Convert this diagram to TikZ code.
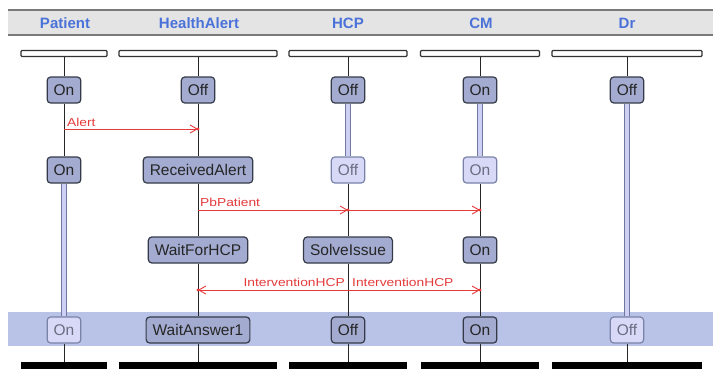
\documentclass[tikz,border=0pt]{standalone}
\usepackage{fontspec}
\setmainfont{Liberation Sans}
\newfontfamily\msgfont[FakeStretch=1.2]{Liberation Sans}
\usetikzlibrary{arrows.meta}

\definecolor{hdrbg}{HTML}{E4E4E4}
\definecolor{hdrline}{HTML}{7A7A7A}
\definecolor{hdrtext}{HTML}{4A72D9}
\definecolor{band}{HTML}{B9C3E7}
\definecolor{stfill}{HTML}{A3ABD0}
\definecolor{stdraw}{HTML}{353A48}
\definecolor{ltfill}{HTML}{D7D9F7}
\definecolor{ltdraw}{HTML}{7A82A8}
\definecolor{lttext}{HTML}{6A6E80}
\definecolor{msg}{HTML}{E43A3A}
\definecolor{dbl}{HTML}{CDD0F2}
\definecolor{dbledge}{HTML}{6E78A0}

\tikzset{
  hdr/.style={text=hdrtext, font=\bfseries\fontsize{15}{16}\selectfont, inner sep=0},
  stbox/.style={draw=stdraw, fill=stfill, rounded corners=3.5pt, line width=1.2pt,
    minimum height=26pt, minimum width=33pt, inner xsep=6.5pt, inner ysep=0pt,
    text=black!85, font=\fontsize{15.5}{16}\selectfont},
  ghost/.style={stbox, draw=ltdraw, fill=ltfill, text=lttext},
  lane/.style={draw=black!80, fill=white, rounded corners=1pt, line width=1.2pt,
    minimum height=6pt, inner sep=0},
  endbar/.style={fill=black, inner sep=0, minimum height=8pt},
  life/.style={draw=black!85, line width=0.8pt},
  busy/.style={draw=dbledge, line width=0.9pt, double=dbl, double distance=4.5pt},
  msgline/.style={draw=msg, line width=0.9pt, -{Straight Barb[length=7pt,width=8pt]}},
  msgdot/.style={fill=msg},
  msgtext/.style={text=msg, font=\msgfont\fontsize{11.5}{12}\selectfont, inner sep=0}
}

\begin{document}
\begin{tikzpicture}[x=1pt, y=-1pt]
\useasboundingbox (0,0) rectangle (713,368);

% header strip with the participant names
\fill[hdrbg] (8,10) rectangle (713,35);
\draw[hdrline, line width=1.4pt] (8,10) -- (713,10);
\draw[hdrline, line width=1.2pt] (8,35) -- (713,35);
\node[hdr] (hP) at (65,23) {Patient};
\node[hdr] (hH) at (199,23) {HealthAlert};
\node[hdr] (hC) at (348,23) {HCP};
\node[hdr] (hM) at (481,23) {CM};
\node[hdr] (hD) at (627,23) {Dr};

% highlighted last step
\fill[band] (8,312) rectangle (713,346);

% lane heads
\node[lane, minimum width=86pt]  (tP) at (64,53.5) {};
\node[lane, minimum width=158pt] (tH) at (198,53.5) {};
\node[lane, minimum width=118pt] (tC) at (348,53.5) {};
\node[lane, minimum width=119pt] (tM) at (480,53.5) {};
\node[lane, minimum width=150pt] (tD) at (627,53.5) {};

% lane feet
\node[endbar, minimum width=86pt]  (bP) at (64,366) {};
\node[endbar, minimum width=158pt] (bH) at (198,366) {};
\node[endbar, minimum width=118pt] (bC) at (348,366) {};
\node[endbar, minimum width=118pt] (bM) at (480,366) {};
\node[endbar, minimum width=150pt] (bD) at (627,366) {};

% states
\node[stbox] (p1) at (64,90)  {On};
\node[stbox] (p2) at (64,170) {On};
\node[ghost] (p4) at (64,330) {On};

\node[stbox] (h1) at (198,90)  {Off};
\node[stbox] (h2) at (198,170) {ReceivedAlert};
\node[stbox] (h3) at (198,250) {WaitForHCP};
\node[stbox] (h4) at (198,330) {WaitAnswer1};

\node[stbox] (c1) at (348,90)  {Off};
\node[ghost] (c2) at (348,170) {Off};
\node[stbox] (c3) at (348,250) {SolveIssue};
\node[stbox] (c4) at (348,330) {Off};

\node[stbox] (m1) at (480,90)  {On};
\node[ghost] (m2) at (480,170) {On};
\node[stbox] (m3) at (480,250) {On};
\node[stbox] (m4) at (480,330) {On};

\node[stbox] (d1) at (627,90)  {Off};
\node[ghost] (d4) at (627,330) {Off};

% lifelines: thin while idle, doubled while busy
\draw[life] (tP) -- (p1);
\draw[life] (p1) -- (p2);
\draw[busy] (p2) -- (p4);
\draw[life] (p4) -- (bP);

\draw[life] (tH) -- (h1);
\draw[life] (h1) -- (h2);
\draw[life] (h2) -- (h3);
\draw[life] (h3) -- (h4);
\draw[life] (h4) -- (bH);

\draw[life] (tC) -- (c1);
\draw[busy] (c1) -- (c2);
\draw[life] (c2) -- (c3);
\draw[life] (c3) -- (c4);
\draw[life] (c4) -- (bC);

\draw[life] (tM) -- (m1);
\draw[busy] (m1) -- (m2);
\draw[life] (m2) -- (m3);
\draw[life] (m3) -- (m4);
\draw[life] (m4) -- (bM);

\draw[life] (tD) -- (d1);
\draw[busy] (d1) -- (d4);
\draw[life] (d4) -- (bD);

% message: Alert
\coordinate (alS) at (64,129);
\coordinate (alH) at (198,129);
\draw[msgline] (alS) -- (alH);
\fill[msgdot] (alH) circle (1.6pt);
\node[msgtext, anchor=base west] (alL) at (67,126) {Alert};

% message: PbPatient
\coordinate (pbS) at (198,210);
\coordinate (pbC) at (348,210);
\coordinate (pbM) at (480,210);
\draw[msgline] (pbS) -- (pbC);
\draw[msgline] (pbC) -- (pbM);
\fill[msgdot] (pbC) circle (1.6pt);
\fill[msgdot] (pbM) circle (1.6pt);
\node[msgtext, anchor=base west] (pbL) at (200,206) {PbPatient};

% message: InterventionHCP
\coordinate (ivS) at (348,290);
\coordinate (ivH) at (198,290);
\coordinate (ivM) at (480,290);
\draw[msgline] (ivS) -- (ivH);
\draw[msgline] (ivS) -- (ivM);
\fill[msgdot] (ivH) circle (1.6pt);
\fill[msgdot] (ivM) circle (1.6pt);
\node[msgtext, anchor=base east] (ivL1) at (345,286) {InterventionHCP};
\node[msgtext, anchor=base west] (ivL2) at (352,286) {InterventionHCP};
\end{tikzpicture}
\end{document}
